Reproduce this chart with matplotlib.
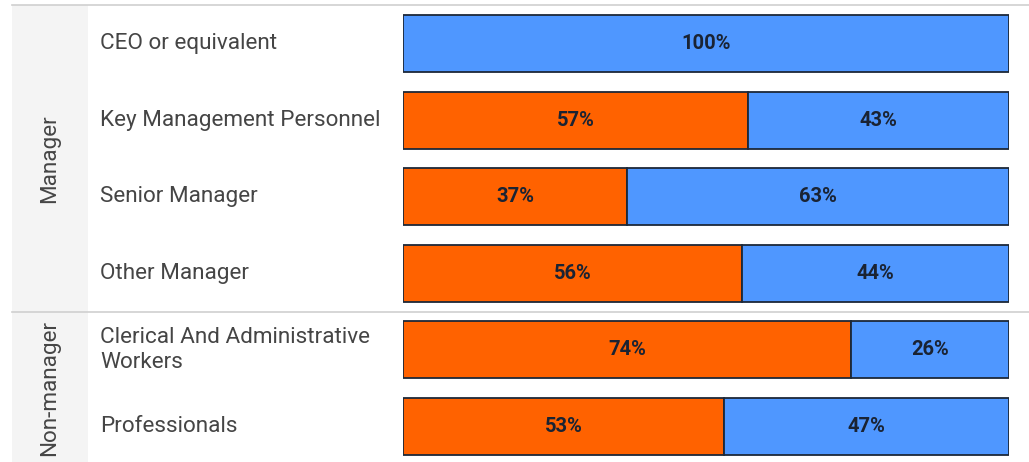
import matplotlib.pyplot as plt

plt.rcParams['font.family'] = ['Roboto', 'DejaVu Sans']

categories = ["CEO or equivalent", "Key Management Personnel", "Senior Manager",
              "Other Manager", "Clerical And Administrative\nWorkers", "Professionals"]
groups = ["Manager", "Non-manager"]
group_sizes = [4, 2]
orange_vals = [0, 57, 37, 56, 74, 53]
blue_vals = [100, 43, 63, 44, 26, 47]

orange = "#ff6200"
blue = "#4f97ff"
edge = "#1c2838"
txt = "#454545"

W, H = 1029, 462
fig = plt.figure(figsize=(W / 100, H / 100), dpi=100)

# rows: first center at 43.5px, pitch 76.6px
pitch = 76.6
top_edge = 5.2
y_top = -0.5 - top_edge / pitch
y_bot = -0.5 + (H - top_edge) / pitch

ax = fig.add_axes([403 / W, 0, 606 / W, 1])
ax.set_xlim(0, 100)
ax.set_ylim(y_bot, y_top)
ax.axis("off")

ypos = list(range(len(categories)))
bh = 57 / pitch
ax.barh(ypos, orange_vals, height=bh, color=orange, edgecolor=edge, linewidth=1.3)
ax.barh(ypos, blue_vals, left=orange_vals, height=bh, color=blue, edgecolor=edge, linewidth=1.3)

for y, o, b in zip(ypos, orange_vals, blue_vals):
    if o > 0:
        ax.text(o / 2, y, f"{o}%", ha="center", va="center", fontsize=14.5,
                fontweight="bold", color="#1a2333")
    if b > 0:
        ax.text(o + b / 2, y, f"{b}%", ha="center", va="center", fontsize=14.5,
                fontweight="bold", color="#1a2333")

# background axes over the whole figure for labels and group band
bg = fig.add_axes([0, 0, 1, 1], zorder=-1)
bg.set_xlim(0, W)
bg.set_ylim(y_bot, y_top)
bg.axis("off")

start = 0
for g, n in zip(groups, group_sizes):
    y0 = start - 0.5
    y1 = start + n - 0.5
    bg.fill_between([12, 88], y0, y1, color="#f4f4f4", lw=0)
    bg.text(50, (y0 + y1) / 2, g, rotation=90, ha="center", va="center",
            fontsize=16.2, color=txt)
    bg.plot([12, W], [y0, y0], color="#cfcfcf", lw=1.2)
    start += n

for y, c in zip(ypos, categories):
    bg.text(100, y, c, ha="left", va="center", fontsize=16.2, color=txt,
            linespacing=1.25)

fig.savefig("out.png", dpi=100)
